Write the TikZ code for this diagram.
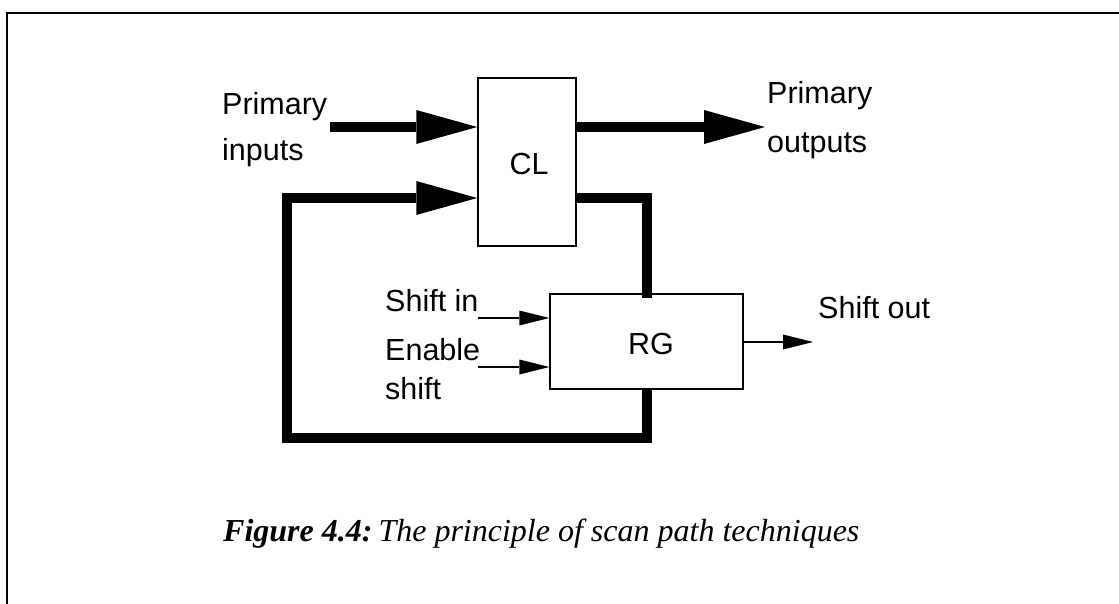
\documentclass[tikz,border=0pt]{standalone}
\usepackage{fontspec}
\setmainfont{Liberation Sans}
\newfontfamily\capfont{Liberation Serif}
\usetikzlibrary{arrows.meta}
\begin{document}
\begin{tikzpicture}[x=1pt,y=-1pt,
  lbl/.style={font=\fontsize{30.5}{36}\selectfont, inner sep=0pt, anchor=base west},
  blk/.style={draw, line width=1.5pt, inner sep=0pt},
  bus/.style={line width=10pt, line join=miter},
  busarrow/.style={bus, -{Triangle[length=61pt,width=34pt,line width=0pt]}},
  sig/.style={line width=1.3pt, -{Triangle[length=30pt,width=15pt,line width=0pt]}}]
\useasboundingbox (0,0) rectangle (1119,604);
% frame
\draw[line width=2pt] (7,604) -- (7,13) -- (1119,13);
% blocks
\node[blk, minimum width=98pt, minimum height=168pt] (cl) at (527,162) {};
\node[font=\fontsize{30.5}{36}\selectfont, inner sep=0pt] (cltext) at (529,164) {CL};
\node[blk, minimum width=193pt, minimum height=95pt] (rg) at (646.5,341.5) {};
\node[font=\fontsize{30.5}{36}\selectfont, inner sep=0pt] (rgtext) at (651,344) {RG};
% labels
\node[lbl] (pi1) at (222,115) {Primary};
\node[lbl] (pi2) at (222,161) {inputs};
\node[lbl] (po1) at (767,104) {Primary};
\node[lbl] (po2) at (767,153) {outputs};
\node[lbl] (si) at (385,311) {Shift in};
\node[lbl] (en1) at (385,360) {Enable};
\node[lbl] (en2) at (385,399) {shift};
\node[lbl] (so) at (818,318) {Shift out};
% coordinates
\coordinate (piS) at (330,127);
\coordinate (poE) at (765,127);
\coordinate (fbR) at (647,198);
\coordinate (fbT) at (647,298);
\coordinate (fbB) at (647,438);
\coordinate (fbL) at (287,438);
\coordinate (fbU) at (287,198);
\coordinate (siS) at (478,318);
\coordinate (enS) at (478,367);
\coordinate (soE) at (813,342);
% buses
\draw[busarrow] (piS) -- (piS -| cl.west);
\draw[busarrow] (cl.east |- poE) -- (poE);
\draw[bus] (cl.east |- fbR) -- (fbR) -- (fbT);
\draw[busarrow] (rg.south -| fbB) ++(0,-1) -- (fbB) -- (fbL) -- (fbU) -- (fbU -| cl.west);
% signals
\draw[sig] (siS) -- (siS -| rg.west);
\draw[sig] (enS) -- (enS -| rg.west);
\draw[sig] (rg.east |- soE) -- (soE);
% caption
\node[font=\capfont\fontsize{32}{38}\selectfont, inner sep=0pt, anchor=base west] (cap) at (223,541)
  {\textbf{\textit{Figure 4.4:}}\hspace{6pt}\textit{The principle of scan path techniques}};
\end{tikzpicture}
\end{document}
